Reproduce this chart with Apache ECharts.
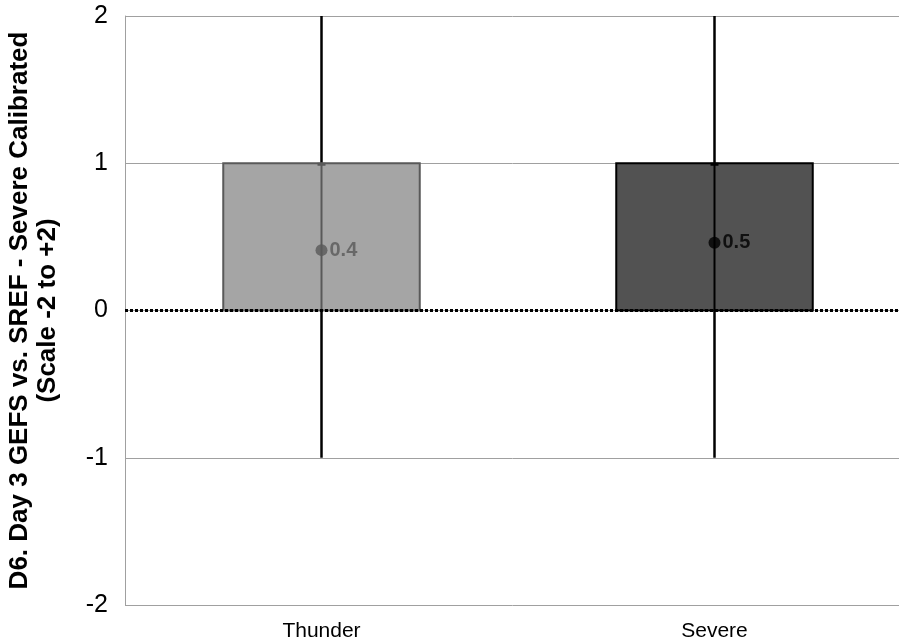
<!DOCTYPE html>
<html>
<head>
<meta charset="utf-8">
<script src="https://cdn.jsdelivr.net/npm/echarts@6/dist/echarts.min.js"></script>
<style>html,body{margin:0;padding:0;background:#fff;}#c{width:899px;height:644px;}</style>
</head>
<body>
<div id="c"></div>
<script>
// ---- data ----
const categories = ['Thunder', 'Severe'];
const boxLow = [0, 0];
const boxHigh = [1, 1];
const whiskerLow = [-1, -1];
const whiskerHigh = [2, 2];
const means = [0.41, 0.46];
const yTicks = [-2, -1, 0, 1, 2];

// ---- styles ----
const fillColors = ['#a5a5a5', '#525252'];
const borderColors = ['#595959', '#000000'];
const markColors = ['#595959', '#000000'];

const chart = echarts.init(document.getElementById('c'), null, {renderer: 'canvas'});
const FONT = '"Liberation Sans", Arial, sans-serif';

const idx = categories.map((_, i) => i);

const option = {
  animation: false,
  backgroundColor: '#fff',
  grid: {left: 125, top: 16, height: 589, width: 786, containLabel: false, outerBoundsMode: 'none'},
  xAxis: {
    type: 'category',
    data: categories,
    axisLine: {show: false},
    axisTick: {show: false},
    splitLine: {show: false},
    axisLabel: {color: '#000', fontSize: 21, fontFamily: FONT, margin: 16}
  },
  yAxis: {
    type: 'value',
    min: yTicks[0], max: yTicks[yTicks.length - 1], interval: 1,
    axisLine: {show: true, lineStyle: {color: '#a0a0a0', width: 1}},
    axisTick: {show: false},
    splitLine: {show: true, lineStyle: {color: '#a0a0a0', width: 1}},
    axisLabel: {color: '#000', fontSize: 25, fontFamily: FONT, margin: 17},
    name: 'D6. Day 3 GEFS vs. SREF - Severe Calibrated\n(Scale -2 to +2)',
    nameLocation: 'middle',
    nameGap: 63,
    nameTextStyle: {color: '#000', fontSize: 26, fontWeight: 'bold', fontFamily: FONT, lineHeight: 28}
  },
  series: [
    {
      // whiskers
      type: 'custom', z: 2,
      data: idx.map(i => [i, whiskerLow[i], whiskerHigh[i]]),
      renderItem: function (params, api) {
        const lo = api.coord([api.value(0), api.value(1)]);
        const hi = api.coord([api.value(0), api.value(2)]);
        return {type: 'line', shape: {x1: lo[0], y1: lo[1], x2: hi[0], y2: hi[1]},
          style: {stroke: '#000', lineWidth: 2.5}};
      }
    },
    {
      // boxes
      type: 'custom', z: 3,
      data: idx.map(i => [i, boxLow[i], boxHigh[i]]),
      renderItem: function (params, api) {
        const i = params.dataIndex;
        const lo = api.coord([api.value(0), api.value(1)]);
        const hi = api.coord([api.value(0), api.value(2)]);
        const w = api.size([1, 0])[0] * 0.5;
        return {type: 'rect', shape: {x: lo[0] - w / 2, y: hi[1], width: w, height: lo[1] - hi[1]},
          style: {fill: fillColors[i], stroke: borderColors[i], lineWidth: 2}};
      }
    },
    {
      // inner line + cap
      type: 'custom', z: 4,
      data: idx.map(i => [i, boxLow[i], boxHigh[i]]),
      renderItem: function (params, api) {
        const i = params.dataIndex;
        const lo = api.coord([api.value(0), api.value(1)]);
        const hi = api.coord([api.value(0), api.value(2)]);
        return {type: 'group', children: [
          {type: 'line', shape: {x1: lo[0], y1: lo[1], x2: hi[0], y2: hi[1]},
            style: {stroke: markColors[i], lineWidth: 2}},
          {type: 'line', shape: {x1: hi[0] - 4, y1: hi[1] + 1, x2: hi[0] + 4, y2: hi[1] + 1},
            style: {stroke: markColors[i], lineWidth: 3}}
        ]};
      },
      markLine: {
        silent: true, symbol: 'none', z: 10,
        label: {show: false},
        lineStyle: {color: '#000', type: [3, 2], width: 3},
        data: [{yAxis: 0}]
      }
    },
    {
      type: 'scatter', z: 6,
      symbol: 'circle', symbolSize: 12,
      data: idx.map(i => ({
        value: [i, means[i]],
        itemStyle: {color: markColors[i]},
        label: {color: markColors[i]}
      })),
      label: {
        show: true, position: 'right', distance: 2,
        fontSize: 20, fontWeight: 'bold', fontFamily: FONT,
        formatter: p => p.value[1].toFixed(1)
      }
    }
  ]
};
chart.setOption(option);
</script>
</body>
</html>
